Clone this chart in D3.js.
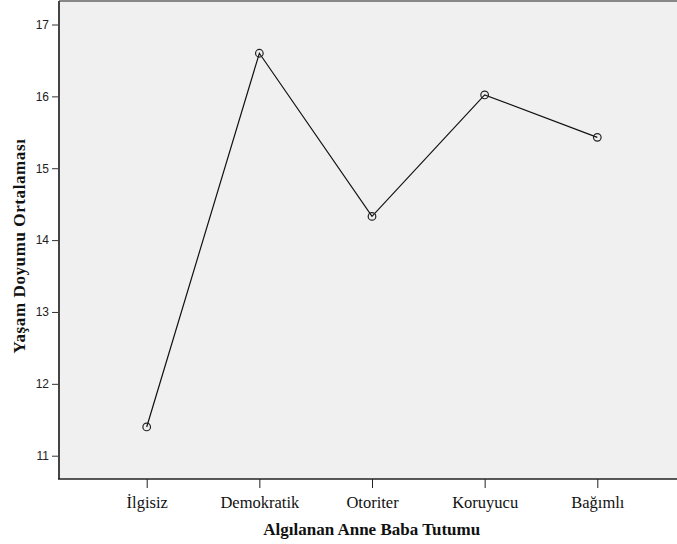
<!DOCTYPE html>
<html><head><meta charset="utf-8">
<script src="https://cdn.jsdelivr.net/npm/d3@7"></script>
<style>body{margin:0;background:#fff}svg{display:block}</style>
</head><body>
<svg id="c" width="677" height="544"></svg>
<script>
const categories = ["İlgisiz","Demokratik","Otoriter","Koruyucu","Bağımlı"];
const values = [11.40, 16.60, 14.33, 16.02, 15.43];
const yTicks = [11,12,13,14,15,16,17];
const xTitle = "Algılanan Anne Baba Tutumu";
const yTitle = "Yaşam Doyumu Ortalaması";

(function(){
const svg = d3.select("#c");
const pL = 59, pT = 1, pB = 479, pR = 680;

svg.append("rect").attr("x",pL).attr("y",pT).attr("width",pR-pL).attr("height",pB-pT).attr("fill","#f0f0f0");
svg.append("line").attr("x1",pL).attr("x2",pR).attr("y1",pT).attr("y2",pT).attr("stroke","#888").attr("stroke-width",2);

const x = d3.scalePoint().domain(categories).range([146.7, 597.3]);
const y = d3.scaleLinear().domain([11,17]).range([455.7, 24.5]);

const yAxis = svg.append("g").attr("transform",`translate(${pL},0)`)
  .call(d3.axisLeft(y).tickValues(yTicks).tickFormat(d3.format("d")).tickSize(7).tickPadding(3).tickSizeOuter(0));
yAxis.select(".domain").remove();
yAxis.selectAll(".tick line").attr("stroke","#333");
yAxis.selectAll("text").attr("font-family","Liberation Sans, Arial, sans-serif").attr("font-size",12).attr("fill","#222");
svg.append("line").attr("x1",pL).attr("x2",pL).attr("y1",pT).attr("y2",pB).attr("stroke","#444").attr("stroke-width",2);

const xAxis = svg.append("g").attr("transform",`translate(0,${pB})`)
  .call(d3.axisBottom(x).tickSize(9).tickPadding(8).tickSizeOuter(0));
xAxis.select(".domain").remove();
xAxis.selectAll(".tick line").attr("stroke","#222");
xAxis.selectAll("text").attr("font-family","Liberation Serif, Times New Roman, serif").attr("font-size",16.5).attr("fill","#111");
svg.append("line").attr("x1",pL-1).attr("x2",pR).attr("y1",pB).attr("y2",pB).attr("stroke","#222").attr("stroke-width",1.5);

const line = d3.line().x((d,i)=>x(categories[i])).y(d=>y(d));
svg.append("path").datum(values).attr("d",line).attr("fill","none").attr("stroke","#111").attr("stroke-width",1.2);
svg.selectAll("circle.pt").data(values).join("circle").attr("class","pt")
  .attr("cx",(d,i)=>x(categories[i])).attr("cy",d=>y(d)).attr("r",3.8)
  .attr("fill","none").attr("stroke","#222").attr("stroke-width",1.2);

svg.append("text").attr("x",371.7).attr("y",535).attr("text-anchor","middle")
  .attr("font-family","Liberation Serif, Times New Roman, serif").attr("font-weight","bold").attr("font-size",17).attr("fill","#111").text(xTitle);
svg.append("text").attr("transform","translate(25,246) rotate(-90)").attr("text-anchor","middle")
  .attr("font-family","Liberation Serif, Times New Roman, serif").attr("font-weight","bold").attr("font-size",17).attr("letter-spacing",0.6).attr("fill","#111").text(yTitle);
})();
</script>
</body></html>
